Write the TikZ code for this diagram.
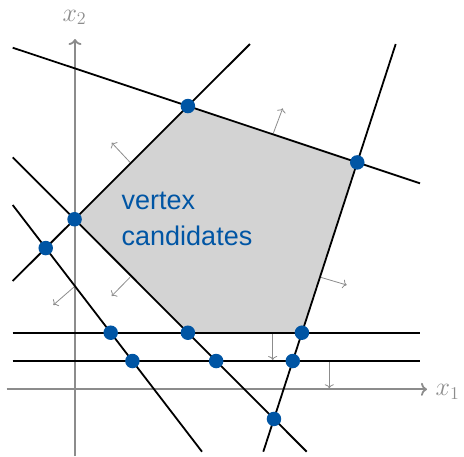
\documentclass[tikz,border=0pt]{standalone}
\usepackage{fontspec}
\newfontfamily\lsans{Liberation Sans}
\usetikzlibrary{arrows.meta}
\definecolor{vblue}{RGB}{0,85,164}
\definecolor{axgray}{RGB}{140,140,140}
\definecolor{polygray}{RGB}{211,211,211}
\begin{document}
\begin{tikzpicture}[x=1pt,y=-1pt,
  bline/.style={line width=1.8pt,black},
  axis/.style={line width=1.8pt,axgray,-{To[length=6pt,width=13pt]}},
  normal/.style={line width=0.8pt,axgray,-{To[length=4pt,width=9pt]}},
  vdot/.style={circle,fill=vblue,minimum size=14.5pt,inner sep=0pt},
  axlabel/.style={text=axgray,inner sep=0pt,font=\huge},
  vlabel/.style={text=vblue,inner sep=0pt,align=left,font=\lsans\fontsize{27}{36}\selectfont}]
\useasboundingbox (0,0) rectangle (464,456);
% line end points
\coordinate (L1a) at (12.7,47.7);  \coordinate (L1b) at (420,183.3);
\coordinate (L2a) at (12.7,281);   \coordinate (L2b) at (250,44);
\coordinate (L3a) at (395.7,44);   \coordinate (L3b) at (263.3,451.7);
\coordinate (L4a) at (12.7,157.3); \coordinate (L4b) at (306.7,451.7);
\coordinate (L5a) at (12.7,205);   \coordinate (L5b) at (202,451.7);
\coordinate (H1a) at (12.7,332.7); \coordinate (H1b) at (420,332.7);
\coordinate (H2a) at (12.7,361);   \coordinate (H2b) at (420,361);
% intersections
\coordinate (P1) at (intersection of L2a--L2b and L4a--L4b);
\coordinate (P2) at (intersection of L1a--L1b and L2a--L2b);
\coordinate (P3) at (intersection of L1a--L1b and L3a--L3b);
\coordinate (P4) at (intersection of L3a--L3b and H1a--H1b);
\coordinate (P5) at (intersection of L4a--L4b and H1a--H1b);
\coordinate (Q1) at (intersection of L2a--L2b and L5a--L5b);
\coordinate (Q2) at (intersection of L5a--L5b and H1a--H1b);
\coordinate (Q3) at (intersection of L5a--L5b and H2a--H2b);
\coordinate (Q4) at (intersection of L4a--L4b and H2a--H2b);
\coordinate (Q5) at (intersection of L3a--L3b and H2a--H2b);
\coordinate (Q6) at (intersection of L3a--L3b and L4a--L4b);
% feasible region
\fill[polygray] (P1)--(P2)--(P3)--(P4)--(P5)--cycle;
% axes
\coordinate (X1s) at (6.7,389.3); \coordinate (X1e) at (427,389.3);
\coordinate (X2s) at (75,456);    \coordinate (X2e) at (75,39);
\draw[axis] (X1s) -- (X1e);
\draw[axis] (X2s) -- (X2e);
\node[axlabel,anchor=base west] (x1lab) at (435.5,395.5) {\scalebox{1.25}{$x_1$}};
\node[axlabel,anchor=base] (x2lab) at (74.5,21) {\scalebox{1.25}{$x_2$}};
% normals
\coordinate (N1s) at (273.3,133.3); \coordinate (N1e) at (282.7,108.3);
\coordinate (N2s) at (130,162.3);   \coordinate (N2e) at (111.7,142.7);
\coordinate (N3s) at (130,277.3);   \coordinate (N3e) at (111.7,296);
\coordinate (N4s) at (74,287);      \coordinate (N4e) at (53.3,305);
\coordinate (N5s) at (320.7,277.3); \coordinate (N5e) at (346.7,285);
\coordinate (N6s) at (272.7,333.3); \coordinate (N6e) at (272.7,360);
\coordinate (N7s) at (329.3,361.7); \coordinate (N7e) at (329.3,388.3);
\foreach \i in {1,...,7} {\draw[normal] (N\i s) -- (N\i e);}
% constraint lines
\foreach \l in {L1,L2,L3,L4,L5,H1,H2} {\draw[bline] (\l a) -- (\l b);}
% vertex candidates
\foreach \p in {P1,P2,P3,P4,P5,Q1,Q2,Q3,Q4,Q5,Q6} {\node[vdot] (d\p) at (\p) {};}
\node[vlabel,anchor=base west] (vc) at (121.5,245) {vertex\\candidates};
\end{tikzpicture}
\end{document}
